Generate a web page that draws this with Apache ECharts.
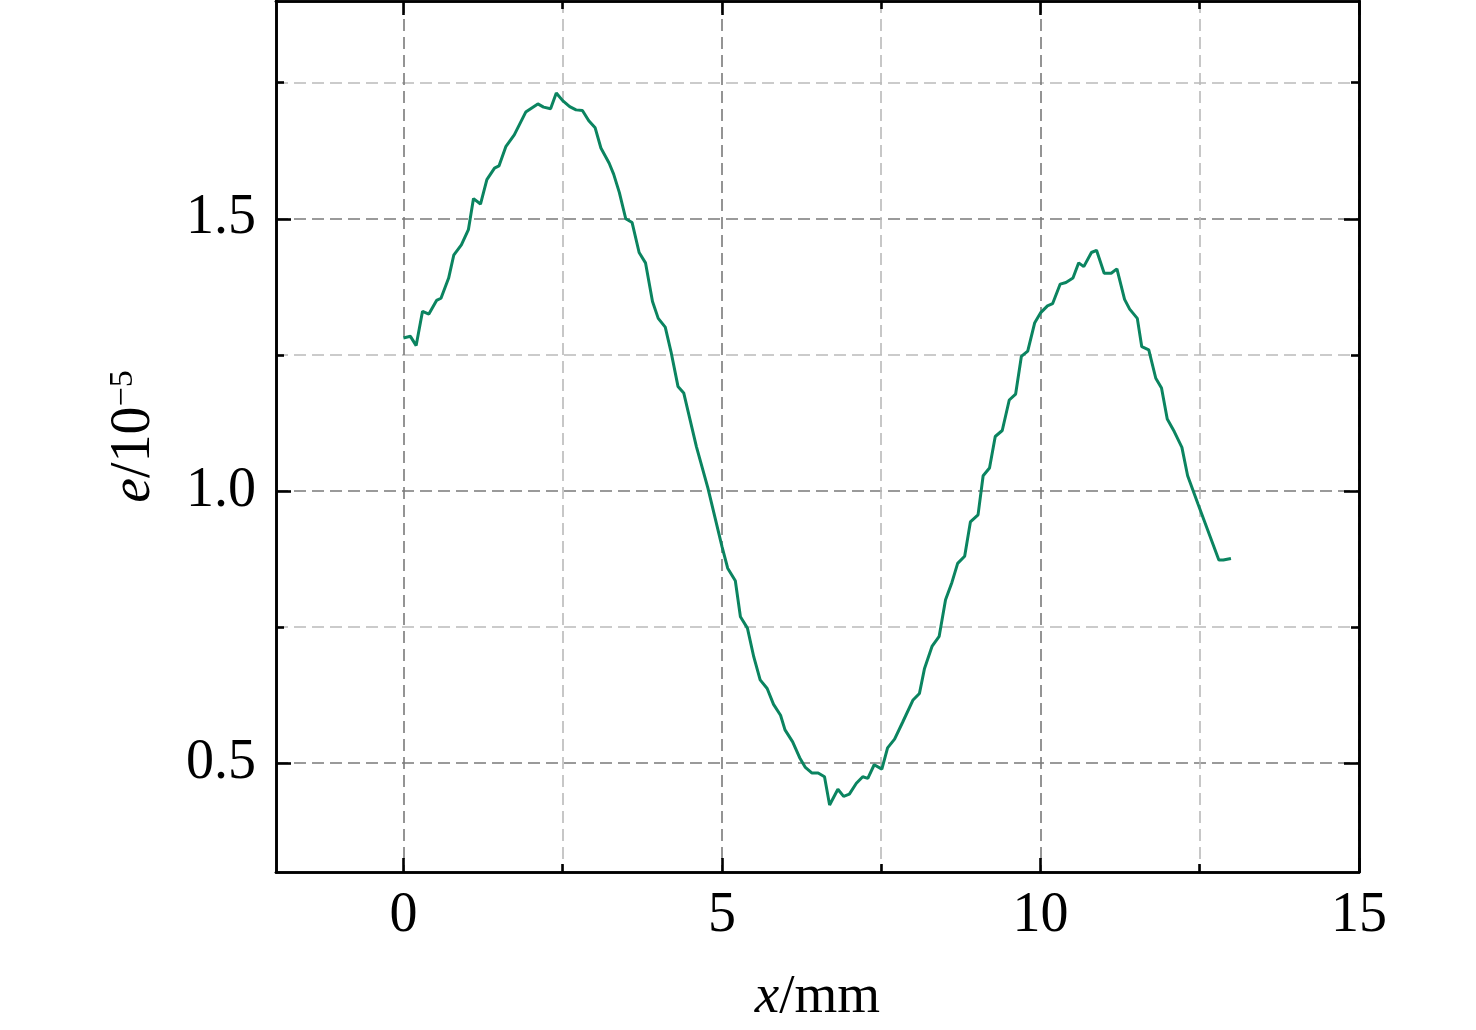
<!DOCTYPE html>
<html>
<head>
<meta charset="utf-8">
<script src="https://cdn.jsdelivr.net/npm/echarts@6/dist/echarts.min.js"></script>
<style>
html,body{margin:0;padding:0;background:#fff;}
#chart{width:1476px;height:1030px;}
</style>
</head>
<body>
<div id="chart"></div>
<script>
// x positions (mm)
const xs = [0.00,0.11,0.20,0.30,0.40,0.52,0.59,0.71,0.79,0.91,1.02,1.10,1.21,1.31,1.43,1.50,1.61,1.74,1.92,2.11,2.20,2.31,2.40,2.50,2.61,2.71,2.81,2.91,3.01,3.10,3.23,3.30,3.39,3.49,3.59,3.70,3.80,3.91,4.00,4.11,4.20,4.31,4.40,4.60,4.78,5.00,5.09,5.21,5.29,5.40,5.50,5.60,5.71,5.81,5.92,5.99,6.11,6.22,6.31,6.41,6.51,6.61,6.69,6.82,6.91,7.00,7.11,7.21,7.29,7.39,7.51,7.60,7.71,7.84,8.00,8.10,8.18,8.30,8.41,8.51,8.61,8.70,8.81,8.90,9.02,9.10,9.20,9.29,9.40,9.51,9.61,9.70,9.80,9.91,10.00,10.11,10.19,10.31,10.40,10.51,10.60,10.68,10.80,10.88,11.00,11.11,11.20,11.32,11.40,11.52,11.59,11.70,11.81,11.90,11.99,12.10,12.22,12.31,12.47,12.80,12.87,12.99];
// e values (x 10^-5)
const ys = [1.281,1.284,1.267,1.330,1.325,1.350,1.354,1.391,1.433,1.452,1.480,1.537,1.527,1.572,1.593,1.597,1.633,1.654,1.696,1.711,1.705,1.702,1.731,1.717,1.706,1.700,1.699,1.680,1.667,1.630,1.602,1.582,1.548,1.500,1.493,1.438,1.419,1.348,1.317,1.301,1.256,1.192,1.180,1.081,1.005,0.898,0.858,0.835,0.769,0.748,0.695,0.653,0.637,0.608,0.588,0.561,0.539,0.510,0.492,0.482,0.482,0.475,0.423,0.452,0.439,0.443,0.463,0.475,0.472,0.497,0.489,0.528,0.544,0.576,0.616,0.628,0.674,0.715,0.733,0.800,0.832,0.867,0.880,0.943,0.956,1.028,1.042,1.100,1.111,1.167,1.178,1.247,1.257,1.309,1.327,1.340,1.344,1.380,1.383,1.391,1.419,1.412,1.438,1.442,1.400,1.400,1.408,1.352,1.334,1.317,1.265,1.259,1.207,1.189,1.132,1.109,1.080,1.028,0.977,0.873,0.873,0.876];

const xMajorTicks = [0, 5, 10, 15];
const xMinorTicks = [2.5, 7.5, 12.5];
const yMajorTicks = [0.5, 1.0, 1.5];
const yMinorTicks = [0.75, 1.25, 1.75];
const xRange = [-2, 15];
const yRange = [0.3, 1.9];

const FONT = "'Liberation Serif', 'Times New Roman', serif";
const majorGrid = {show: true, lineStyle: {color: '#7a7a7a', width: 1.6, type: [12, 6]}};
const minorGrid = {show: true, lineStyle: {color: '#bababa', width: 1.6, type: [12, 6]}};
const axisLine = {show: true, onZero: false, lineStyle: {color: '#000', width: 2.6}};

function makeX(position, ticks, major, labels, named) {
  return {
    type: 'value', position: position, min: xRange[0], max: xRange[1],
    axisLine: axisLine,
    axisTick: {show: true, inside: true, length: major ? 14 : 8, customValues: ticks, lineStyle: {color: '#000', width: 2.6}},
    axisLabel: labels ? {show: true, customValues: ticks, margin: 16, fontFamily: FONT, fontSize: 56, color: '#000'} : {show: false},
    splitLine: position === 'bottom' ? (major ? majorGrid : minorGrid) : {show: false},
    name: named ? '{i|x}/mm' : '',
    nameLocation: 'middle', nameGap: 98,
    nameTextStyle: {fontFamily: FONT, fontSize: 55, color: '#000', rich: {i: {fontFamily: FONT, fontSize: 55, fontStyle: 'italic', color: '#000'}}}
  };
}
function makeY(position, ticks, major, labels, named) {
  return {
    type: 'value', position: position, min: yRange[0], max: yRange[1],
    axisLine: axisLine,
    axisTick: {show: true, inside: true, length: major ? 15 : 8, customValues: ticks, lineStyle: {color: '#000', width: 2.6}},
    axisLabel: labels ? {show: true, customValues: ticks, margin: 20, fontFamily: FONT, fontSize: 56, color: '#000', formatter: v => v.toFixed(1)} : {show: false},
    splitLine: position === 'left' ? (major ? majorGrid : minorGrid) : {show: false},
    name: named ? '{i|e}/10{s|−5}' : '',
    nameLocation: 'middle', nameGap: 114, nameRotate: 90,
    nameTextStyle: {fontFamily: FONT, fontSize: 56, color: '#000', rich: {
      i: {fontFamily: FONT, fontSize: 56, fontStyle: 'italic', color: '#000'},
      s: {fontFamily: FONT, fontSize: 34, color: '#000', verticalAlign: 'top', lineHeight: 34, padding: [0, 0, 24, 0]}
    }}
  };
}

const chart = echarts.init(document.getElementById('chart'), null, {renderer: 'canvas'});
chart.setOption({
  backgroundColor: '#fff',
  animation: false,
  grid: {left: 276, right: 117, top: 1, bottom: 158, containLabel: false},
  xAxis: [
    makeX('bottom', xMajorTicks, true, true, true),
    makeX('bottom', xMinorTicks, false, false, false),
    makeX('top', xMajorTicks, true, false, false),
    makeX('top', xMinorTicks, false, false, false)
  ],
  yAxis: [
    makeY('left', yMajorTicks, true, true, true),
    makeY('left', yMinorTicks, false, false, false),
    makeY('right', yMajorTicks, true, false, false),
    makeY('right', yMinorTicks, false, false, false)
  ],
  series: [{
    type: 'line',
    xAxisIndex: 0, yAxisIndex: 0,
    data: xs.map((x, i) => [x, ys[i]]),
    showSymbol: false,
    lineStyle: {color: '#0b8460', width: 3},
    z: 5
  }]
});
</script>
</body>
</html>
